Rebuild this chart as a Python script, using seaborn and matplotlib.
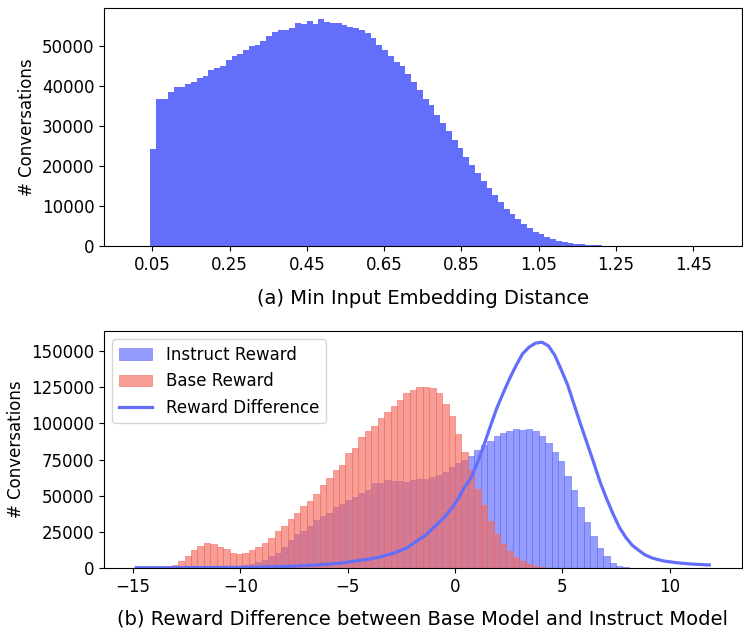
import numpy as np
import pandas as pd
import matplotlib
matplotlib.use("Agg")
import matplotlib.pyplot as plt
import seaborn as sns

# ---------------- data ----------------
# (a) Min input embedding distance: 100 bins over [0, 1.5], counts in thousands
dist_counts_k = [
    0, 0, 0,
    24.1, 36.6, 36.6, 38.3, 39.6, 39.6, 40.5, 40.8, 42.0, 42.3,
    44.0, 44.3, 45.0, 46.5, 47.3, 47.8, 48.8, 49.8, 50.2, 51.2,
    52.5, 53.5, 54.0, 54.0, 54.5, 55.7, 55.5, 56.2, 55.5, 56.5,
    56.0, 55.7, 55.7, 55.2, 54.7, 54.5, 54.0, 53.2, 52.0, 50.2,
    49.0, 47.5, 46.0, 44.8, 43.0, 41.0, 38.8, 36.6, 35.1, 32.6,
    30.6, 28.6, 26.4, 24.4, 22.1, 20.1, 18.2, 16.2, 14.4, 12.7,
    10.9, 9.2, 8.0, 6.7, 5.5, 4.5, 3.5, 2.9, 2.2, 1.7,
    1.2, 1.0, 0.7, 0.5, 0.4, 0.3, 0.2,
    0.12, 0.08, 0.05, 0.03, 0.02, 0, 0, 0, 0, 0,
    0, 0, 0, 0, 0, 0, 0, 0, 0, 0,
]
dist_ticks = [0.05, 0.25, 0.45, 0.65, 0.85, 1.05, 1.25, 1.45]
dist_tick_labels = ["0.05", "0.25", "0.45", "0.65", "0.85", "1.05", "1.25", "1.45"]

# (b) Rewards: 90 bins over [-15, 12], counts in thousands
instruct_k = [
    0, 0, 0, 0, 0, 0, 0, 0, 0, 0,
    0, 0, 0.3, 0.5, 0.8, 1.2, 1.7, 2.3, 3.0, 4.4,
    5.7, 8.2, 10.7, 14.5, 19.6, 23.5, 25.8, 29.5, 33.0, 36.4,
    38.4, 42.3, 44.2, 46.9, 49.3, 52.1, 54.0, 58.8, 59.0, 60.8,
    60.4, 60.0, 59.6, 60.8, 61.3, 61.3, 62.9, 64.1, 66.4, 69.8,
    72.5, 75.0, 77.8, 81.9, 84.8, 87.5, 91.5, 93.2, 95.0, 96.1,
    95.6, 96.1, 94.4, 91.0, 86.5, 79.9, 73.7, 63.4, 53.8, 42.1,
    31.6, 22.2, 14.1, 8.5, 3.9, 1.5, 0.7, 0.3, 0, 0,
    0, 0, 0, 0, 0, 0, 0, 0, 0, 0,
]
base_k = [
    0, 0, 0, 0, 0.3, 0.9, 2.1, 5.0, 8.4, 12.6,
    15.3, 17.4, 16.7, 14.8, 13.1, 10.5, 9.7, 10.3, 12.4, 14.6,
    17.6, 20.8, 25.6, 29.3, 33.9, 38.3, 42.9, 46.7, 51.5, 57.5,
    62.1, 67.5, 71.5, 79.2, 83.2, 90.9, 94.8, 98.3, 103.8, 108.1,
    112.2, 116.3, 121.1, 123.0, 125.2, 125.2, 124.7, 121.0, 113.4, 105.3,
    92.8, 80.1, 68.0, 55.0, 43.7, 32.5, 23.6, 16.8, 12.0, 8.0,
    5.2, 3.0, 1.8, 1.0, 0.5, 0.2, 0, 0, 0, 0,
    0, 0, 0, 0, 0, 0, 0, 0, 0, 0,
    0, 0, 0, 0, 0, 0, 0, 0, 0, 0,
]
diff_x = [-14.85, -14.25, -13.65, -13.05, -12.45, -11.85, -11.25, -10.65, -10.05,
          -9.45, -8.85, -8.25, -7.65, -7.05, -6.45, -5.85, -5.25, -4.65, -4.05,
          -3.45, -2.85, -2.25, -1.65, -1.35, -1.05, -0.75, -0.45, -0.15,
          0.15, 0.45, 0.75, 1.05, 1.35, 1.65, 1.95, 2.25, 2.55, 2.85,
          3.15, 3.45, 3.75, 4.05, 4.35, 4.65, 4.95, 5.25, 5.55, 5.85,
          6.15, 6.45, 6.75, 7.05, 7.35, 7.65, 7.95, 8.25, 8.55, 8.85,
          9.15, 9.45, 9.75, 10.35, 10.95, 11.55, 11.85]
diff_k = [0.4, 0.4, 0.4, 0.4, 0.5, 0.5, 0.5, 0.6, 0.6,
          0.7, 0.9, 1.1, 1.4, 1.8, 2.3, 2.9, 3.7, 5.0, 6.2,
          8.0, 10.5, 14.0, 20.0, 23.0, 27.5, 31.5, 36.0, 41.5,
          48.0, 56.0, 62.5, 73.0, 85.0, 98.0, 110.5, 121.0, 131.0, 140.0,
          148.0, 152.5, 155.3, 156.0, 153.5, 147.0, 137.0, 126.5, 113.0, 99.5,
          86.5, 73.5, 60.0, 48.5, 38.0, 28.5, 21.5, 16.0, 12.5, 9.3,
          7.3, 6.0, 5.0, 3.8, 3.0, 2.5, 2.3]

# ---------------- plotting ----------------
BLUE = "#636EFA"
RED = "#F46A60"

plt.rcParams["font.family"] = ["DejaVu Sans"]

fig = plt.figure(figsize=(7.43, 6.29), dpi=100)
ax1 = fig.add_axes([0.140, 0.609, 0.858, 0.378])
ax2 = fig.add_axes([0.140, 0.0965, 0.858, 0.3775])

# top
edges1 = np.linspace(0, 1.5, len(dist_counts_k) + 1).tolist()
cent1 = [(a + b) / 2 for a, b in zip(edges1[:-1], edges1[1:])]
df1 = pd.DataFrame({"x": cent1, "w": np.array(dist_counts_k) * 1000})
sns.histplot(data=df1, x="x", weights="w", bins=edges1, color=BLUE, alpha=1.0,
             linewidth=0, ax=ax1)
ax1.set_xticks(dist_ticks)
ax1.set_xticklabels(dist_tick_labels)
ax1.set_xlabel("(a) Min Input Embedding Distance", fontsize=14, labelpad=11)
ax1.set_ylabel("# Conversations", fontsize=12)
ax1.tick_params(labelsize=12)

# bottom
edges2 = np.linspace(-15, 12, len(instruct_k) + 1).tolist()
cent2 = [(a + b) / 2 for a, b in zip(edges2[:-1], edges2[1:])]
df_i = pd.DataFrame({"x": cent2, "w": np.array(instruct_k) * 1000})
df_b = pd.DataFrame({"x": cent2, "w": np.array(base_k) * 1000})
df_d = pd.DataFrame({"x": diff_x, "y": np.array(diff_k) * 1000})
sns.histplot(data=df_i, x="x", weights="w", bins=edges2, color=BLUE, alpha=0.68,
             edgecolor=BLUE, linewidth=0.4, label="Instruct Reward", ax=ax2)
sns.histplot(data=df_b, x="x", weights="w", bins=edges2, color=RED, alpha=0.65,
             edgecolor=RED, linewidth=0.4, label="Base Reward", ax=ax2)
sns.lineplot(data=df_d, x="x", y="y", color=BLUE, linewidth=2.3,
             label="Reward Difference", ax=ax2)
ax2.set_xlabel("(b) Reward Difference between Base Model and Instruct Model",
               fontsize=14, labelpad=9.5)
ax2.set_ylabel("# Conversations", fontsize=12)
ax2.tick_params(labelsize=12)

handles, labels = ax2.get_legend_handles_labels()
order = ["Instruct Reward", "Base Reward", "Reward Difference"]
hmap = dict(zip(labels, handles))
ax2.legend([hmap[o] for o in order], order, loc="upper left", fontsize=12)

fig.savefig("out.png", dpi=100)
